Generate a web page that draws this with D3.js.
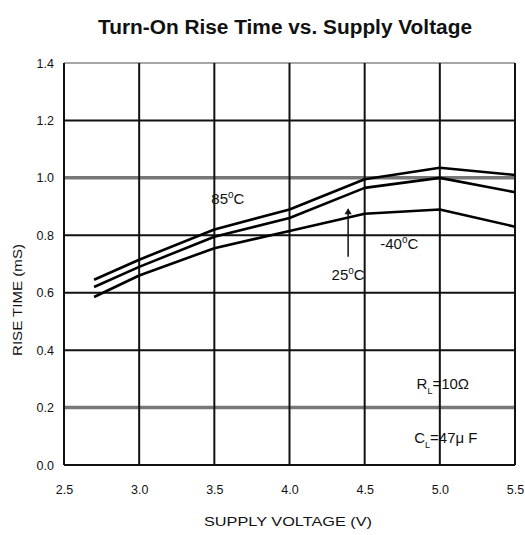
<!DOCTYPE html>
<html><head><meta charset="utf-8">
<script src="https://cdn.jsdelivr.net/npm/d3@7"></script>
<style>body{margin:0;background:#fff}svg{display:block}text{font-family:"Liberation Sans",Arial,sans-serif;fill:#111}</style>
</head><body><svg id="c" width="525" height="535"></svg>
<script>
const voltages = [2.7, 3.0, 3.5, 4.0, 4.5, 5.0, 5.5];
const rise85 = [0.645, 0.715, 0.82, 0.89, 0.995, 1.035, 1.01];
const rise25 = [0.62, 0.69, 0.795, 0.86, 0.965, 1.0, 0.95];
const riseM40 = [0.585, 0.66, 0.755, 0.815, 0.875, 0.89, 0.83];
const xTicks = [2.5, 3.0, 3.5, 4.0, 4.5, 5.0, 5.5];
const yTicks = [0.0, 0.2, 0.4, 0.6, 0.8, 1.0, 1.2, 1.4];
const greyRows = [0.2, 1.0];

const svg = d3.select("#c");
const x = d3.scaleLinear().domain([2.5, 5.5]).range([64, 515]);
const y = d3.scaleLinear().domain([0, 1.4]).range([465, 63]);

// title
svg.append("text").attr("x", 285).attr("y", 34).attr("text-anchor", "middle")
  .attr("font-size", 20).attr("font-weight", "bold")
  .attr("textLength", 374).attr("lengthAdjust", "spacingAndGlyphs")
  .text("Turn-On Rise Time vs. Supply Voltage");

// horizontal grid
svg.selectAll(".hg").data(yTicks).enter().append("line")
  .attr("x1", x(2.5)).attr("x2", x(5.5))
  .attr("y1", d => y(d)).attr("y2", d => y(d))
  .attr("stroke", d => greyRows.includes(d) ? "#777" : (d === 1.4 ? "#888" : "#111"))
  .attr("stroke-width", d => greyRows.includes(d) ? 3.5 : (d === 1.4 ? 1.5 : 2));
// vertical grid
svg.selectAll(".vg").data(xTicks).enter().append("line")
  .attr("x1", d => x(d)).attr("x2", d => x(d))
  .attr("y1", y(1.4)).attr("y2", y(0))
  .attr("stroke", "#111").attr("stroke-width", 2);

// axes labels
const yAxis = d3.axisLeft(y).tickValues(yTicks).tickFormat(d3.format(".1f")).tickSize(0).tickPadding(10);
const gy = svg.append("g").attr("transform", `translate(${x(2.5)},0)`).call(yAxis);
gy.select(".domain").remove();
gy.selectAll("text").attr("font-size", 12.5).attr("fill", "#222").style("font-family", "Liberation Sans, Arial, sans-serif");

const xAxis = d3.axisBottom(x).tickValues(xTicks).tickFormat(d3.format(".1f")).tickSize(0).tickPadding(20);
const gx = svg.append("g").attr("transform", `translate(0,${y(0)})`).call(xAxis);
gx.select(".domain").remove();
gx.selectAll("text").attr("font-size", 12.5).attr("fill", "#222").style("font-family", "Liberation Sans, Arial, sans-serif");

svg.append("text").attr("x", 288).attr("y", 526).attr("text-anchor", "middle")
  .attr("font-size", 12.5).attr("textLength", 168).attr("lengthAdjust", "spacingAndGlyphs")
  .text("SUPPLY VOLTAGE (V)");
svg.append("text").attr("transform", "translate(22,300) rotate(-90)").attr("text-anchor", "middle")
  .attr("font-size", 12.5).attr("textLength", 112).attr("lengthAdjust", "spacingAndGlyphs")
  .text("RISE TIME (mS)");

// curves
const line = d3.line().x((d, i) => x(voltages[i])).y(d => y(d));
[rise85, rise25, riseM40].forEach(s => {
  svg.append("path").attr("d", line(s)).attr("fill", "none")
    .attr("stroke", "#000").attr("stroke-width", 2.6).attr("stroke-linejoin", "round");
});

// annotations
function degLabel(xv, yv, pre) {
  const t = svg.append("text").attr("x", x(xv)).attr("y", y(yv)).attr("font-size", 15)
    .attr("text-anchor", "middle");
  t.append("tspan").text(pre);
  t.append("tspan").attr("dy", -6).attr("font-size", 10).text("o");
  t.append("tspan").attr("dy", 6).text("C");
}
degLabel(3.59, 0.91, "85");
degLabel(4.73, 0.752, "-40");
degLabel(4.39, 0.645, "25");
// arrow for 25C
svg.append("line").attr("x1", x(4.39)).attr("x2", x(4.39)).attr("y1", y(0.725)).attr("y2", y(0.89))
  .attr("stroke", "#111").attr("stroke-width", 1.5);
svg.append("path").attr("d", d3.symbol(d3.symbolTriangle, 22)()).attr("transform", `translate(${x(4.39)},${y(0.88)})`)
  .attr("fill", "#111");

// RL / CL
const r = svg.append("text").attr("x", x(5.02)).attr("y", y(0.265)).attr("font-size", 15).attr("text-anchor", "middle");
r.append("tspan").text("R");
r.append("tspan").attr("dy", 5).attr("font-size", 9).text("L");
r.append("tspan").attr("dy", -5).text("=10Ω");
const c = svg.append("text").attr("x", x(5.04)).attr("y", y(0.075)).attr("font-size", 15).attr("text-anchor", "middle");
c.append("tspan").text("C");
c.append("tspan").attr("dy", 5).attr("font-size", 9).text("L");
c.append("tspan").attr("dy", -5).text("=47μ F");
</script></body></html>
